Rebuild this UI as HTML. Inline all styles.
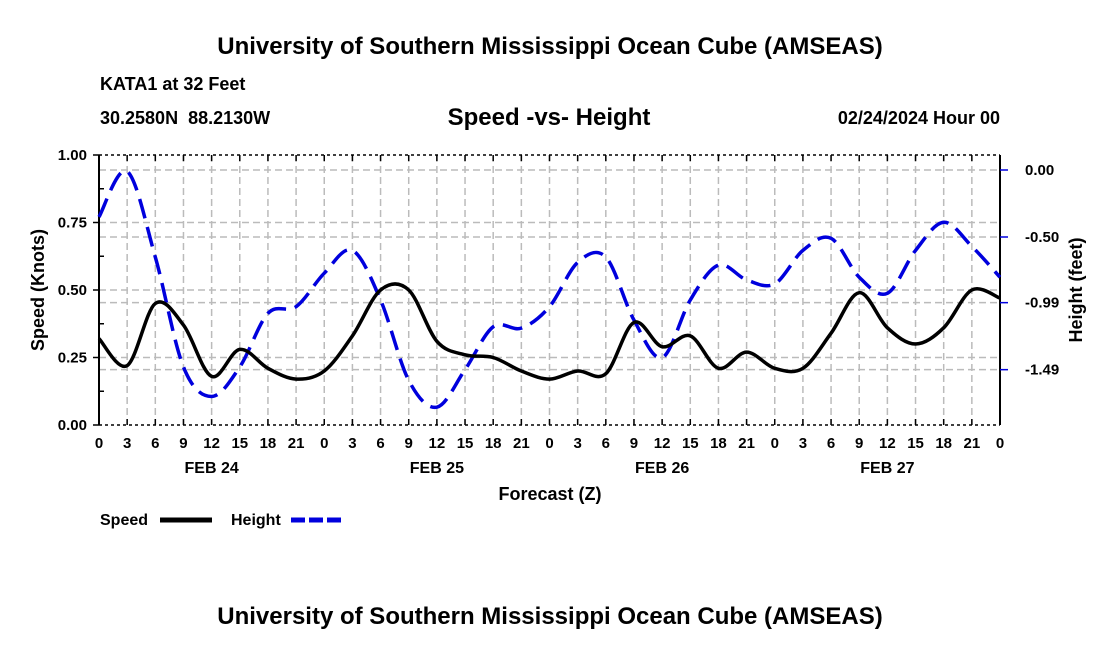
<!DOCTYPE html>
<html><head><meta charset="utf-8"><style>
body{margin:0;background:#fff}
svg text{font-family:"Liberation Sans",Arial,sans-serif;font-weight:bold;fill:#000;white-space:pre}
</style></head><body>
<svg id="c" width="1100" height="650" xmlns="http://www.w3.org/2000/svg">
<text x="550" y="54" font-size="24" text-anchor="middle">University of Southern Mississippi Ocean Cube (AMSEAS)</text>
<text x="100" y="90" font-size="18">KATA1 at 32 Feet</text>
<text x="100" y="124" font-size="18" xml:space="preserve">30.2580N  88.2130W</text>
<text x="549" y="125" font-size="24" text-anchor="middle">Speed -vs- Height</text>
<text x="1000" y="124" font-size="18" text-anchor="end">02/24/2024 Hour 00</text>
<g id="grid"></g><g id="axes"></g><g id="series"></g>
<text x="550" y="500" font-size="18" text-anchor="middle">Forecast (Z)</text>
<text transform="translate(44,290) rotate(-90)" font-size="18" text-anchor="middle">Speed (Knots)</text>
<text transform="translate(1082,290) rotate(-90)" font-size="18" text-anchor="middle">Height (feet)</text>
<g>
<text x="100" y="525" font-size="16">Speed</text>
<line x1="160" y1="520" x2="212" y2="520" stroke="#000" stroke-width="5"/>
<text x="231" y="525" font-size="16">Height</text>
<line x1="291" y1="520" x2="343" y2="520" stroke="#0000dd" stroke-width="5" stroke-dasharray="14,4"/>
</g>
<text x="550" y="624" font-size="24" text-anchor="middle">University of Southern Mississippi Ocean Cube (AMSEAS)</text>
</svg>
<script>
const hours=[0,3,6,9,12,15,18,21,24,27,30,33,36,39,42,45,48,51,54,57,60,63,66,69,72,75,78,81,84,87,90,93,96];
const speed=[0.32,0.22,0.45,0.37,0.18,0.28,0.21,0.17,0.20,0.33,0.50,0.50,0.31,0.26,0.25,0.20,0.17,0.20,0.19,0.38,0.29,0.33,0.21,0.27,0.21,0.21,0.34,0.49,0.36,0.30,0.36,0.50,0.47];
const height=[-0.35,-0.01,-0.65,-1.47,-1.69,-1.47,-1.07,-1.02,-0.77,-0.60,-0.97,-1.57,-1.77,-1.49,-1.17,-1.18,-1.02,-0.69,-0.65,-1.12,-1.40,-0.97,-0.71,-0.82,-0.85,-0.60,-0.51,-0.80,-0.92,-0.60,-0.39,-0.57,-0.80];
const xTickLabels=["0","3","6","9","12","15","18","21","0","3","6","9","12","15","18","21","0","3","6","9","12","15","18","21","0","3","6","9","12","15","18","21","0"];
const dayLabels=["FEB 24","FEB 25","FEB 26","FEB 27"];
const speedTicks=[0,0.25,0.5,0.75,1.0];
const heightTicks=[0,-0.5,-0.99,-1.49];
const NS="http://www.w3.org/2000/svg";
const L=99,R=1000,T=155,B=425;
const X=h=>L+h*(R-L)/96;
const YS=v=>B-v*(B-T);
const YH=h=>170-h*134;
function mk(p,tag,a){const e=document.createElementNS(NS,tag);for(const k in a)e.setAttribute(k,a[k]);p.appendChild(e);return e;}
const grid=document.getElementById('grid'),axes=document.getElementById('axes'),ser=document.getElementById('series');
for(let i=1;i<32;i++){const l=mk(grid,'line',{x1:X(i*3),x2:X(i*3),y1:T,y2:B,stroke:'#bbb','stroke-width':1.5,'stroke-dasharray':'7,4'});

}
speedTicks.slice(1,4).forEach(v=>{const l=mk(grid,'line',{x1:L,x2:R,y1:YS(v),y2:YS(v),stroke:'#bbb','stroke-width':1.5,'stroke-dasharray':'7,4'});

});
heightTicks.forEach(v=>{const l=mk(grid,'line',{x1:L,x2:R,y1:YH(v),y2:YH(v),stroke:'#bbb','stroke-width':1.5,'stroke-dasharray':'7,4'});

});
let f=mk(axes,'line',{x1:L,x2:L,y1:T,y2:B,stroke:'#000','stroke-width':2});


f=mk(axes,'line',{x1:R,x2:R,y1:T,y2:B,stroke:'#000','stroke-width':2});


f=mk(axes,'line',{x1:L,x2:R,y1:T,y2:T,stroke:'#000','stroke-width':1.5,'stroke-dasharray':'3,3'});


f=mk(axes,'line',{x1:L,x2:R,y1:B,y2:B,stroke:'#000','stroke-width':1.5,'stroke-dasharray':'3,3'});


hours.forEach((h,i)=>{
 mk(axes,'line',{x1:X(h),x2:X(h),y1:B,y2:B-6,stroke:'#000','stroke-width':1.5});
 mk(axes,'line',{x1:X(h),x2:X(h),y1:T,y2:T+6,stroke:'#000','stroke-width':1.5});
 const t=mk(axes,'text',{x:X(h),y:B+23,'font-size':15,'text-anchor':'middle'});t.textContent=xTickLabels[i];
 
 
});
dayLabels.forEach((d,i)=>{const t=mk(axes,'text',{x:X(12+24*i),y:B+48,'font-size':16,'text-anchor':'middle'});t.textContent=d;

});
speedTicks.forEach(v=>{mk(axes,'line',{x1:L-6,x2:L,y1:YS(v),y2:YS(v),stroke:'#000','stroke-width':1.5});
 const t=mk(axes,'text',{x:L-12,y:YS(v)+5,'font-size':15,'text-anchor':'end'});t.textContent=v.toFixed(2);
 
 });
for(let v=0.125;v<1;v+=0.25)mk(axes,'line',{x1:L,x2:L+5,y1:YS(v),y2:YS(v),stroke:'#000','stroke-width':1.5});
heightTicks.forEach(v=>{mk(axes,'line',{x1:R,x2:R+8,y1:YH(v),y2:YH(v),stroke:'#0000dd','stroke-width':1.5});
 const t=mk(axes,'text',{x:R+25,y:YH(v)+5,'font-size':15});t.textContent=v.toFixed(2);
 
 });
function smooth(pts){let d=`M${pts[0][0]},${pts[0][1]}`;for(let i=0;i<pts.length-1;i++){const p0=pts[Math.max(i-1,0)],p1=pts[i],p2=pts[i+1],p3=pts[Math.min(i+2,pts.length-1)];
 d+=` C${p1[0]+(p2[0]-p0[0])/6},${p1[1]+(p2[1]-p0[1])/6} ${p2[0]-(p3[0]-p1[0])/6},${p2[1]-(p3[1]-p1[1])/6} ${p2[0]},${p2[1]}`;}return d;}
const hp=mk(ser,'path',{d:smooth(hours.map((h,i)=>[X(h),YH(height[i])])),fill:'none',stroke:'#0000dd','stroke-width':3.5,'stroke-dasharray':'20,9'});


const sp=mk(ser,'path',{d:smooth(hours.map((h,i)=>[X(h),YS(speed[i])])),fill:'none',stroke:'#000','stroke-width':3.5});


</script>
</body></html>
